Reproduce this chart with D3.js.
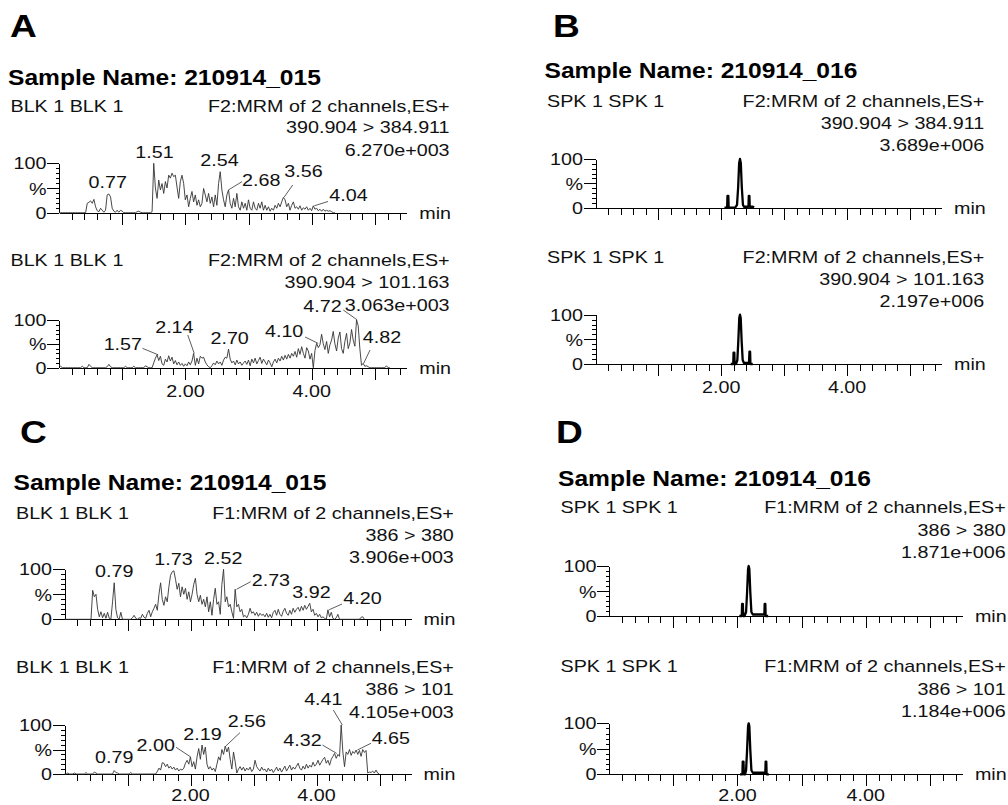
<!DOCTYPE html>
<html><head><meta charset="utf-8">
<script src="https://cdn.jsdelivr.net/npm/d3@7"></script>
<style>
body{margin:0;background:#fff}
svg{display:block}
text{font-family:"Liberation Sans",Arial,sans-serif;fill:#111}
</style>
</head><body>
<svg id="c" width="1008" height="805"></svg>
<script>
// ---------------- DATA ----------------
const scanInterval = 0.0263; // minutes per scan
const xTickLabels = ["2.00", "4.00"];
const xTickLabelValues = [2, 4];
const yTickLabels = ["0", "%", "100"];
const yTickLabelValues = [0, 50, 100];

const panelLetters = ["A", "B", "C", "D"];
const sampleNames = ["210914_015", "210914_016", "210914_015", "210914_016"];
const sampleTypes = ["BLK 1 BLK 1", "SPK 1 SPK 1", "BLK 1 BLK 1", "SPK 1 SPK 1"];
const functionNames = ["F2", "F2", "F1", "F1"];
const transitions = [["390.904 > 384.911", "390.904 > 101.163"], ["390.904 > 384.911", "390.904 > 101.163"], ["386 > 380", "386 > 101"], ["386 > 380", "386 > 101"]];
const maxIntensities = [["6.270e+003", "3.063e+003"], ["3.689e+006", "2.197e+006"], ["3.906e+003", "4.105e+003"], ["1.871e+006", "1.184e+006"]];

// Blank chromatograms: relative intensity (%) per scan, from t = 0
const aTopIntensity = [
  0,0,0,0,0,0,0,0,0,0,  0,0,0,0,0,0,0,19,21,24,
  19,27,12,4,2,9,5,1,5,36,  38,32,9,3,1,5,1,5,3,0,
  0,0,0,0,0,0,0,2,3,1,  0,0,0,0,0,0,2,100,50,29,
  66,46,59,39,63,50,76,70,80,73,  76,52,29,63,76,59,26,36,12,29,
  43,22,36,15,26,12,19,49,36,22,  39,19,32,12,36,15,59,83,46,26,
  12,36,46,19,9,29,12,39,12,5,  22,9,19,5,26,9,5,22,9,5,
  19,9,22,5,15,5,12,3,9,5,  15,9,19,12,22,31,26,12,19,5,
  15,22,9,12,7,14,5,10,7,12,  5,9,4,14,7,9,4,7,3,7,
  3,5,3,4,2,0,0];
const aBottomIntensity = [
  5,3,0,0,0,0,0,0,0,0,  0,0,0,0,3,0,0,0,7,3,
  0,0,0,0,0,0,0,0,0,2,  7,2,0,0,0,0,0,0,0,0,
  3,0,0,0,0,3,0,0,0,0,  0,0,4,2,0,0,0,10,20,27,
  15,24,8,5,18,12,25,14,22,8,  15,6,12,5,9,3,8,4,12,6,
  14,30,5,20,8,24,20,22,12,6,  2,0,4,10,6,14,8,12,5,16,
  22,20,39,18,10,14,6,16,8,12,  5,10,14,7,16,4,18,10,20,8,
  15,22,9,18,12,6,16,10,2,12,  18,10,20,14,24,16,26,18,28,20,
  30,24,34,22,40,28,44,30,20,42,  35,18,30,0,36,51,42,48,70,50,
  38,55,30,48,58,76,50,35,62,75,  40,30,55,72,40,52,80,58,45,100,
  88,40,5,9,3,4,2,0,0,0,  0,0,0,0,0,0,0,4,0,0];
const cTopIntensity = [
  0,0,0,0,0,0,0,0,0,0,  0,0,0,0,0,0,0,58,45,50,
  20,5,15,3,12,2,14,2,0,35,  73,20,3,0,14,0,0,0,0,0,
  0,3,8,2,0,3,2,10,4,2,  12,18,5,15,22,30,18,50,73,40,
  28,45,35,65,88,95,97,80,60,72,  45,65,50,62,40,55,35,50,70,82,
  50,35,48,30,40,25,45,15,35,8,  40,62,30,35,10,70,100,35,45,25,
  30,15,2,60,25,30,15,20,5,8,  3,10,22,12,15,8,14,6,12,8,
  10,5,12,4,10,3,14,18,8,20,  10,6,16,22,12,8,18,10,22,14,
  20,24,16,26,18,28,20,26,32,15,  20,8,12,5,10,3,5,2,0,19,
  5,14,2,0,3,10,0,0,0,0,  0,0,0,0,0,0,0,0,0,4,5,0];
const cBottomIntensity = [
  0,0,2,0,0,0,2,0,0,0,  0,0,0,3,0,0,0,0,4,2,
  0,0,0,0,0,0,0,0,0,0,  7,3,2,0,0,0,0,0,0,0,
  3,0,0,0,0,0,0,0,0,0,  0,0,0,0,0,0,5,12,8,23,
  22,15,20,12,16,10,14,8,12,6,  10,8,12,22,28,20,35,15,25,10,
  35,52,30,59,40,55,20,10,15,8,  12,5,20,35,28,50,40,57,45,55,
  30,10,45,25,2,10,15,8,14,6,  12,8,14,5,10,28,15,10,6,14,
  8,10,4,12,6,10,3,8,14,6,  12,4,10,16,6,12,18,8,14,10,
  16,22,12,8,16,10,20,12,18,14,  24,16,20,28,18,24,30,34,22,28,
  18,30,36,42,32,40,36,100,45,15,  45,40,50,38,46,42,49,40,48,36,
  50,44,48,2,4,3,6,2,8,2,0];

// Spiked chromatograms: retention time (min) and relative intensity (%)
const bTopTimes = [2.05,2.093,2.098,2.112,2.117,2.22,2.25,2.268,2.284,2.297,2.31,2.326,2.344,2.36,2.425,2.432,2.437,2.447,2.452,2.50,2.52];
const bTopIntensity = [0,0,24,24,0,0,6,42,92,100,92,42,6,2,2,2,24,24,2,2,0];
const bBottomTimes = [2.15,2.19,2.195,2.207,2.212,2.235,2.255,2.27,2.286,2.297,2.308,2.324,2.34,2.36,2.44,2.448,2.458,2.463,2.50];
const bBottomIntensity = [0,0,23,23,0,0,8,45,94,100,94,45,8,2,2,25,25,0,0];
const dTopTimes = [2.03,2.068,2.073,2.085,2.09,2.11,2.135,2.15,2.166,2.176,2.186,2.202,2.218,2.24,2.42,2.425,2.435,2.44,2.48];
const dTopIntensity = [0,0,24,24,0,0,8,45,94,100,94,45,8,3,3,24,24,0,0];
const dBottomTimes = [2.04,2.078,2.083,2.095,2.10,2.12,2.135,2.15,2.166,2.176,2.186,2.202,2.218,2.24,2.435,2.44,2.45,2.455,2.49];
const dBottomIntensity = [0,0,25,25,0,0,8,45,94,100,94,45,8,3,3,25,25,0,0];

// Peak annotations (retention times)
const aTopPeaks = ["0.77", "1.51", "2.54", "2.68", "3.56", "4.04"];
const aBottomPeaks = ["1.57", "2.14", "2.70", "4.10", "4.72", "4.82"];
const cTopPeaks = ["0.79", "1.73", "2.52", "2.73", "3.92", "4.20"];
const cBottomPeaks = ["0.79", "2.00", "2.19", "2.56", "4.32", "4.41", "4.65"];

// ---------------- LAYOUT / STYLE ----------------
const SX = 1.16; // horizontal stretch of the original raster text
const layout = [
  {x0: 59, k: 63.2, letter: [10, 37], title: 85, xlab: 29, rows: [
    {base: 212.7, h: 49.4, hdr: [111.7, 133.3, 156]},
    {base: 367.7, h: 47.7, hdr: [266, 287.7, 310.7]}]},
  {x0: 595.5, k: 62.9, letter: [553, 37], title: 78.3, xlab: 29, rows: [
    {base: 207.7, h: 48.7, hdr: [107.3, 129.3, 150.7]},
    {base: 364, h: 49.3, hdr: [263.3, 285, 306.7]}]},
  {x0: 64.5, k: 63.0, letter: [20, 443], title: 489.5, xlab: 27, rows: [
    {base: 619.3, h: 50, hdr: [519.3, 540.8, 562.5]},
    {base: 774, h: 49, hdr: [673.3, 695, 717.5]}]},
  {x0: 609, k: 64.2, letter: [556, 443], title: 486, xlab: 27, rows: [
    {base: 616, h: 50, hdr: [513.3, 536, 558.3]},
    {base: 774.3, h: 51, hdr: [671.7, 695, 717.3]}]}
];
// label offsets relative to the peak top (px); null = centred above peak
const aTopLabelLayout = [null, null, null,
  {a: "start", dx: 13.6, dy: -4, lx: 13.6, ly: -8.3},
  {a: "middle", dx: 19.5, dy: -20.7, lx: 8.7, ly: -12.4},
  {a: "start", dx: 15, dy: -5.1, lx: 13.7, ly: -4.3}];
const aBottomLabelLayout = [
  {a: "end", dx: -16.2, dy: -4.8, lx: -15.7, ly: -6.5},
  {a: "middle", dx: -19.9, dy: -20.1, lx: -6.5, ly: -18.4},
  null,
  {a: "end", dx: -14.8, dy: -6.7, lx: -13.1, ly: -6.4},
  {a: "end", dx: -15.6, dy: -7.7, lx: -14, ly: -10},
  {a: "start", dx: -0.9, dy: -20.7, lx: 6.4, ly: -13.4}];
const cTopLabelLayout = [null, null, null,
  {a: "start", dx: 15.2, dy: -3.3, lx: 14.2, ly: -7.6},
  null,
  {a: "start", dx: 14.2, dy: -5.8, lx: 12.9, ly: -5.8}];
const cBottomLabelLayout = [
  {a: "middle", dx: 0, dy: -8},
  {a: "end", dx: -15.5, dy: -5.9, lx: -14.5, ly: -9.6},
  null,
  {a: "start", dx: 1.9, dy: -18.8, lx: 14.2, ly: -13.4},
  {a: "end", dx: -15, dy: -7.4, lx: -14.2, ly: -8.4},
  {a: "middle", dx: -19, dy: -20, lx: -9, ly: -15},
  {a: "start", dx: 14.2, dy: -6, lx: 13.5, ly: -6.7}];

const traces = [
  {p: 0, r: 0, kind: "scan", values: aTopIntensity, peaks: aTopPeaks, lay: aTopLabelLayout},
  {p: 0, r: 1, kind: "scan", values: aBottomIntensity, peaks: aBottomPeaks, lay: aBottomLabelLayout},
  {p: 1, r: 0, kind: "xy", times: bTopTimes, values: bTopIntensity},
  {p: 1, r: 1, kind: "xy", times: bBottomTimes, values: bBottomIntensity},
  {p: 2, r: 0, kind: "scan", values: cTopIntensity, peaks: cTopPeaks, lay: cTopLabelLayout},
  {p: 2, r: 1, kind: "scan", values: cBottomIntensity, peaks: cBottomPeaks, lay: cBottomLabelLayout},
  {p: 3, r: 0, kind: "xy", times: dTopTimes, values: dTopIntensity},
  {p: 3, r: 1, kind: "xy", times: dBottomTimes, values: dBottomIntensity}
];

// ---------------- DRAW ----------------
const svg = d3.select("#c");
function txt(g, x, y, s, o = {}) {
  return g.append("text")
    .attr("transform", `translate(${x},${y}) scale(${SX},1)`)
    .attr("text-anchor", o.anchor || "start")
    .style("font-size", (o.size || 17) + "px")
    .style("font-weight", o.weight || "normal")
    .style("fill", o.fill || "#111")
    .text(s);
}

// panel letters & sample names
layout.forEach((P, i) => {
  txt(svg, P.letter[0], P.letter[1], panelLetters[i], {size: 32, weight: "bold", fill: "#000"});
  txt(svg, P.x0 - 51, P.title, "Sample Name: " + sampleNames[i], {size: 21.2, weight: "bold", fill: "#000"});
});

const minorX = d3.range(1, 28).map(d => d / 5).filter(d => Math.abs(d - Math.round(d)) > 1e-6);
const majorX = [1, 2, 3, 4, 5];
const minorY = [10, 20, 30, 40, 60, 70, 80, 90];

traces.forEach(T => {
  const P = layout[T.p], R = P.rows[T.r];
  const g = svg.append("g");
  const x = d3.scaleLinear().domain([0, 5.5]).range([P.x0, P.x0 + 5.5 * P.k]);
  const y = d3.scaleLinear().domain([0, 100]).range([R.base, R.base - R.h]);

  // header
  txt(g, P.x0 - 48.5, R.hdr[0], sampleTypes[T.p]);
  const right = x(6.18);
  txt(g, right, R.hdr[0], functionNames[T.p] + ":MRM of 2 channels,ES+", {anchor: "end"});
  txt(g, right, R.hdr[1], transitions[T.p][T.r], {anchor: "end"});
  txt(g, right, R.hdr[2], maxIntensities[T.p][T.r], {anchor: "end"});

  // axes
  const ax = g.append("g").attr("shape-rendering", "crispEdges").style("color", "#000");
  ax.append("g").attr("transform", `translate(0,${R.base})`)
    .call(d3.axisBottom(x).tickValues(minorX).tickSize(7).tickSizeOuter(0).tickFormat(""));
  ax.append("g").attr("transform", `translate(0,${R.base})`)
    .call(d3.axisBottom(x).tickValues(majorX).tickSize(12).tickSizeOuter(0).tickFormat(""))
    .select(".domain").remove();
  ax.append("g").attr("transform", `translate(${P.x0},0)`)
    .call(d3.axisLeft(y).tickValues(minorY).tickSize(3.5).tickSizeOuter(0).tickFormat(""));
  ax.append("g").attr("transform", `translate(${P.x0},0)`)
    .call(d3.axisLeft(y).tickValues(yTickLabelValues).tickSize(12).tickSizeOuter(0).tickFormat(""))
    .select(".domain").remove();
  ax.selectAll("line,path").attr("stroke-width", 1);

  yTickLabelValues.forEach((v, i) => {
    txt(g, P.x0 - 12.5, y(v) + (v === 50 ? 6.5 : 5.8), yTickLabels[i], {anchor: "end"});
  });
  txt(g, x(5.7), R.base + 6, "min");
  if (T.r === 1) {
    xTickLabelValues.forEach((v, i) => txt(g, x(v), R.base + P.xlab, xTickLabels[i], {anchor: "middle"}));
  }

  // trace
  let pts;
  if (T.kind === "scan") pts = T.values.map((v, i) => [i * scanInterval, v]);
  else pts = T.times.map((t, i) => [t, T.values[i]]);
  const line = d3.line().x(d => x(d[0])).y(d => y(d[1]));
  g.append("path").datum(pts).attr("d", line)
    .attr("fill", "none")
    .attr("stroke", T.kind === "scan" ? "#333" : "#000")
    .attr("stroke-width", T.kind === "scan" ? 0.9 : 2.3)
    .attr("stroke-linejoin", "round");

  // peak labels
  if (T.peaks) {
    T.peaks.forEach((lab, j) => {
      const t = +lab;
      const c = Math.round(t / scanInterval);
      const v = d3.max(T.values.slice(Math.max(0, c - 1), c + 2));
      const px = x(t), py = y(v);
      const L = T.lay[j];
      if (!L) {
        txt(g, px, py - 5.5, lab, {anchor: "middle"});
      } else {
        txt(g, px + L.dx, py + L.dy, lab, {anchor: L.a});
        if (L.lx !== undefined) {
          g.append("line").attr("x1", px).attr("y1", py)
            .attr("x2", px + L.lx).attr("y2", py + L.ly)
            .attr("stroke", "#333").attr("stroke-width", 0.8);
        }
      }
    });
  }
});
</script>
</body></html>
